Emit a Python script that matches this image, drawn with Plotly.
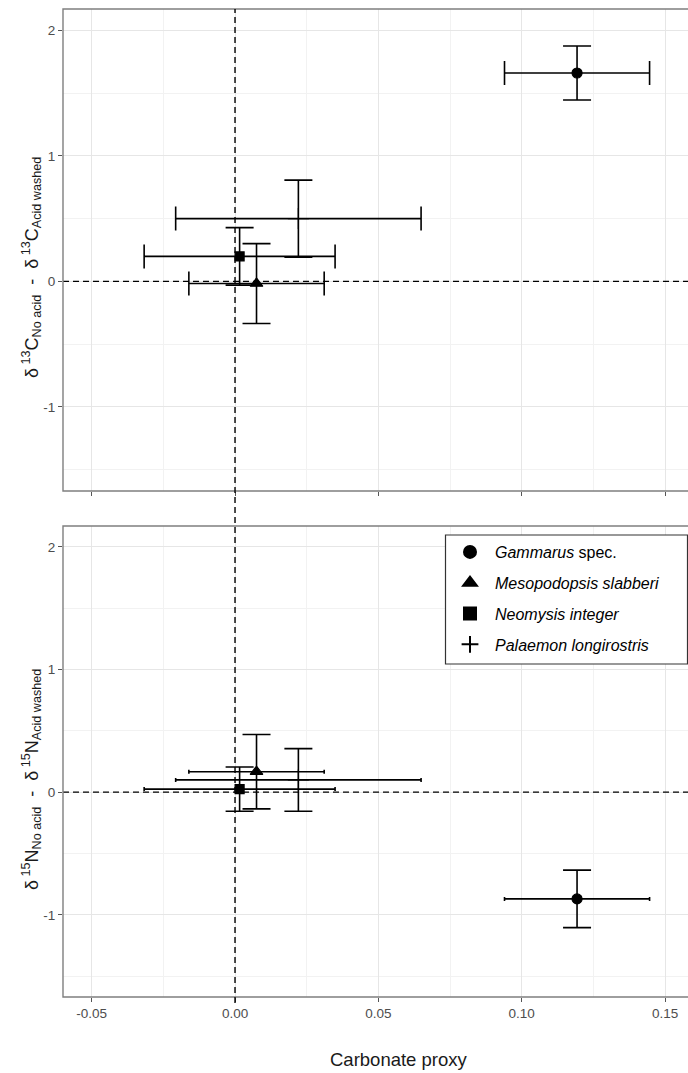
import plotly.graph_objects as go

# Species and their measured offsets (mean ± SD)
species = ["Gammarus spec.", "Mesopodopsis slabberi", "Neomysis integer", "Palaemon longirostris"]
legend_labels = ["<i>Gammarus</i> spec.", "<i>Mesopodopsis slabberi</i>",
                 "<i>Neomysis integer</i>", "<i>Palaemon longirostris</i>"]
carb = [0.1193, 0.0075, 0.0016, 0.0221]
carb_err = [0.0253, 0.0236, 0.0333, 0.0428]
d13c = [1.66, -0.017, 0.199, 0.50]
d13c_err = [0.215, 0.318, 0.229, 0.307]
d15n = [-0.87, 0.167, 0.025, 0.10]
d15n_err = [0.234, 0.303, 0.18, 0.255]

x_ticks = [-0.05, 0.0, 0.05, 0.10, 0.15]
x_ticktext = ["-0.05", "0.00", "0.05", "0.10", "0.15"]
y_ticks = [-1, 0, 1, 2]
y_ticktext = ["-1", "0", "1", "2"]

symbols = ["circle", "triangle-up", "square", "cross-thin"]
sizes = [10, 11, 9, 15]

W, H = 688, 1073
ML, MR, MT, MB = 63, 0, 9, 76
plot_h = H - MT - MB
plot_w = W - ML - MR

def py(px):
    """pixel row -> paper y"""
    return (H - MB - px) / plot_h

def pxx(px):
    return (px - ML) / plot_w

fig = go.Figure()

for i in range(len(species)):
    common = dict(
        mode="markers",
        name=legend_labels[i],
        legendgroup=f"g{i}",
        marker=dict(symbol=symbols[i], size=sizes[i], color="black",
                    line=dict(color="black", width=1.2)),
    )
    # top panel: carbon
    fig.add_trace(go.Scatter(
        x=[carb[i]], y=[d13c[i]], xaxis="x2", yaxis="y2", showlegend=False,
        error_x=dict(type="data", array=[carb_err[i]], color="black", thickness=1.6, width=12),
        error_y=dict(type="data", array=[d13c_err[i]], color="black", thickness=1.6, width=14),
        **common))
    # bottom panel: nitrogen
    fig.add_trace(go.Scatter(
        x=[carb[i]], y=[d15n[i]], xaxis="x", yaxis="y", showlegend=True,
        error_x=dict(type="data", array=[carb_err[i]], color="black", thickness=1.6, width=2),
        error_y=dict(type="data", array=[d15n_err[i]], color="black", thickness=1.6, width=14),
        **common))

grid = dict(showgrid=True, gridcolor="#E6E6E6", gridwidth=1.1, zeroline=False)
xminor = dict(tickvals=[-0.025, 0.025, 0.075, 0.125], showgrid=True,
              gridcolor="#F2F2F2", gridwidth=0.7, ticks="")
yminor = dict(tickvals=[-1.5, -0.5, 0.5, 1.5], showgrid=True,
              gridcolor="#F2F2F2", gridwidth=0.7, ticks="")
tickfont = dict(family="Liberation Sans, Arial, sans-serif", size=13.5, color="#4D4D4D")
xr = [-0.06, 0.158]
yr = [-1.67, 2.17]

top_dom = [py(491), 1]

fig.update_layout(
    width=W, height=H,
    margin=dict(l=ML, r=MR, t=MT, b=MB, pad=0),
    paper_bgcolor="white", plot_bgcolor="white",
    font=dict(family="Liberation Sans, Arial, sans-serif", color="black"),
    xaxis=dict(domain=[0, 1], anchor="y", range=xr, tickvals=x_ticks, ticktext=x_ticktext,
               ticks="outside", ticklen=4, tickcolor="#555", tickfont=tickfont,
               minor=xminor, showline=False, **grid),
    xaxis2=dict(domain=[0, 1], anchor="y2", range=xr, tickvals=x_ticks, ticktext=x_ticktext,
                showticklabels=False, ticks="outside", ticklen=4, tickcolor="#555",
                minor=xminor, showline=False, **grid),
    yaxis=dict(domain=[0, (997 - 526) / plot_h], anchor="x", range=yr, tickvals=y_ticks,
               ticktext=y_ticktext, ticks="outside", ticklen=4, tickcolor="#555",
               tickfont=tickfont, minor=yminor, showline=False, **grid),
    yaxis2=dict(domain=top_dom, anchor="x2", range=yr, tickvals=y_ticks,
                ticktext=y_ticktext, ticks="outside", ticklen=4, tickcolor="#555",
                tickfont=tickfont, minor=yminor, showline=False, **grid),
    showlegend=True,
    legend=dict(
        x=pxx(445), y=py(535), xanchor="left", yanchor="top",
        bgcolor="rgba(0,0,0,0)", borderwidth=0,
        font=dict(family="Liberation Sans, Arial, sans-serif", size=16, color="black"),
        itemwidth=40, tracegroupgap=7, itemsizing="constant",
    ),
)

shapes = []
for xa, ya in (("x", "y"), ("x2", "y2")):
    # horizontal reference line at zero offset
    shapes.append(dict(type="line", xref=f"{xa} domain", yref=ya, x0=0, x1=1, y0=0, y1=0,
                       line=dict(color="black", width=1.4, dash="6px,4px"), layer="above"))
    # panel border (open to the right edge)
    shapes.append(dict(type="rect", xref=f"{xa} domain", yref=f"{ya} domain",
                       x0=0, x1=1.05, y0=0, y1=1,
                       line=dict(color="#7F7F7F", width=1.4), layer="above"))
# vertical reference line at zero carbonate, through both panels
shapes.append(dict(type="line", xref="x", yref="paper", x0=0, x1=0, y0=-0.006, y1=1,
                   line=dict(color="black", width=1.4, dash="6px,4px"), layer="above"))
# legend frame
shapes.append(dict(type="rect", xref="paper", yref="paper",
                   x0=pxx(445.5), x1=pxx(687.5), y0=py(664), y1=py(535),
                   fillcolor="white", line=dict(color="#333333", width=1.2), layer="above"))
fig.update_layout(shapes=shapes)

title_font = dict(family="Liberation Sans, Arial, sans-serif", size=18, color="#1A1A1A")
fig.add_annotation(text="Carbonate proxy", xref="paper", yref="paper",
                   x=pxx(399), y=py(1059), xanchor="center", yanchor="middle",
                   showarrow=False, font=dict(family="Liberation Sans, Arial, sans-serif",
                                              size=18.5, color="#1A1A1A"))
fig.add_annotation(text="δ<sup> 13</sup>C<sub>No acid</sub>  -  δ<sup> 13</sup>C<sub>Acid washed</sub>",
                   xref="paper", yref="paper", x=pxx(31), y=py(268), textangle=-90,
                   xanchor="center", yanchor="middle", showarrow=False, font=title_font)
fig.add_annotation(text="δ<sup> 15</sup>N<sub>No acid</sub>  -  δ<sup> 15</sup>N<sub>Acid washed</sub>",
                   xref="paper", yref="paper", x=pxx(31), y=py(780), textangle=-90,
                   xanchor="center", yanchor="middle", showarrow=False, font=title_font)

fig.write_html("out.html")
